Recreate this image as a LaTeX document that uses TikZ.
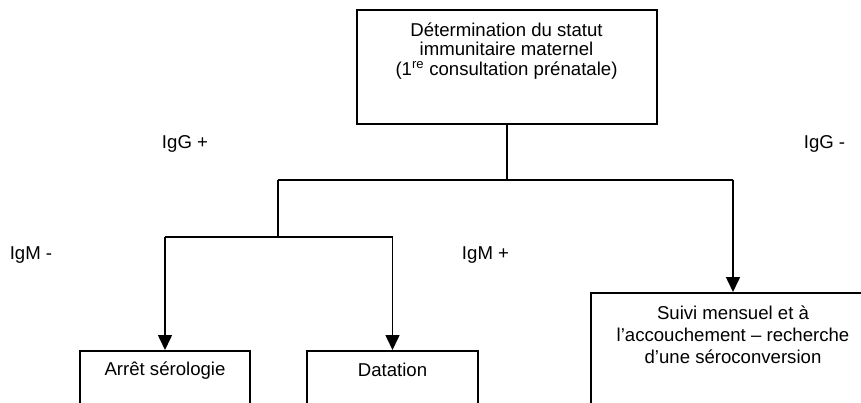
\documentclass[tikz,border=0pt]{standalone}
\usepackage{fontspec}
\setmainfont{Liberation Sans}
\usetikzlibrary{arrows.meta}
\begin{document}
\begin{tikzpicture}[x=1pt,y=-1pt,
  every node/.style={font=\fontsize{18.6}{19.3}\selectfont},
  box/.style={draw=black, line width=2pt, rectangle, inner sep=0pt},
  txt/.style={align=center, inner sep=0pt},
  lbl/.style={inner sep=0pt},
  conn/.style={line width=1.6pt, black},
  arr/.style={conn, -{Triangle[width=14pt,length=15pt]}}
]
\useasboundingbox (0,0) rectangle (861,403);
\clip (0,0) rectangle (861,403);
% boxes
\node[box, minimum width=300pt, minimum height=114pt] (top) at (507,67) {};
\node[box, minimum width=170pt, minimum height=110pt] (arret) at (165,406) {};
\node[box, minimum width=171pt, minimum height=110pt] (dat) at (392.5,406) {};
\node[box, minimum width=284pt, minimum height=160pt] (suivi) at (733,373) {};
% texts
\node[txt] (ttop) at (506.5,51) {Détermination du statut\\immunitaire maternel\\(1\textsuperscript{re} consultation prénatale)};
\node[txt] (tarret) at (165,371) {Arrêt sérologie};
\node[txt] (tdat) at (392.5,369.5) {Datation};
\node[txt, font=\fontsize{18.6}{22}\selectfont] (tsuivi) at (733,334.5) {Suivi mensuel et à\\l’accouchement – recherche\\d’une séroconversion};
% labels
\node[lbl] (iggp) at (185,143.5) {IgG +};
\node[lbl] (iggm) at (824.5,143.5) {IgG -};
\node[lbl] (igmm) at (31,255) {IgM -};
\node[lbl] (igmp) at (485.5,255) {IgM +};
% junctions
\coordinate (jA) at (507,180);
\coordinate (jL) at (278,180);
\coordinate (jR) at (733,180);
\coordinate (jL2) at (278,237);
\coordinate (jLL) at (165,237);
\coordinate (jLR) at (392.5,237);
% connectors
\draw[conn] (top.south) -- (jA);
\draw[conn] (jL) -- (jR);
\draw[conn] (jL) -- (jL2);
\draw[conn] (jLL) -- (jLR);
\draw[arr] (jR) -- (suivi.north);
\draw[arr] (jLL) -- (arret.north);
\draw[arr] (jLR) -- (dat.north);
\end{tikzpicture}
\end{document}
